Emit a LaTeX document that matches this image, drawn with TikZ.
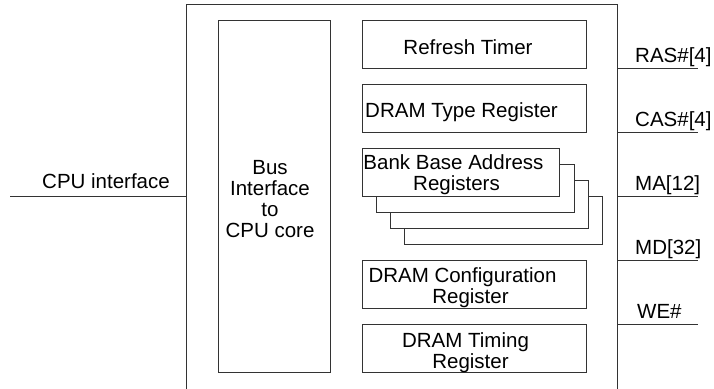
\documentclass[tikz,border=0pt]{standalone}
\usepackage{fontspec}
\setmainfont{Liberation Sans}
\newcommand{\lowerby}[2]{\raisebox{-#1}[\height][\depth]{#2}}
\begin{document}
\begin{tikzpicture}[x=1pt,y=-1pt,
  ln/.style={line width=0.9pt,draw=black!80},
  blk/.style={ln,fill=white,rectangle,inner sep=0pt,align=center,
    font=\fontsize{20.5}{21}\selectfont},
  sig/.style={anchor=base west,inner sep=0pt,font=\fontsize{20.5}{21}\selectfont}]
\clip (0,0) rectangle (714,388);
\fill[white] (0,0) rectangle (714,388);
% outer chip
\node[blk,minimum width=431pt,minimum height=392pt] (chip) at (401.5,200) {};
% bus interface
\node[blk,minimum width=112pt,minimum height=352pt] (bus) at (274,196)
  {\hspace*{-8pt}\lowerby{6pt}{\begin{tabular}{@{}c@{}}Bus\\Interface\\to\\CPU core\end{tabular}}};
% registers
\node[blk,minimum width=224pt,minimum height=48pt] (refresh) at (474,44)
  {\hspace*{-12pt}\lowerby{3pt}{Refresh Timer}};
\node[blk,minimum width=224pt,minimum height=48pt] (type) at (474,108)
  {\hspace*{-25pt}\lowerby{4pt}{DRAM Type Register}};
\node[blk,minimum width=198pt,minimum height=48pt] (bank4) at (503,220) {};
\node[blk,minimum width=198pt,minimum height=48pt] (bank3) at (489,204) {};
\node[blk,minimum width=198pt,minimum height=48pt] (bank2) at (475,188) {};
\node[blk,minimum width=197pt,minimum height=48pt] (bank1) at (460.5,172)
  {\hspace*{-14pt}\lowerby{4pt}{\begin{tabular}{@{}c@{}}Bank Base Address\\\hspace*{6pt}Registers\end{tabular}}};
\node[blk,minimum width=224pt,minimum height=48pt] (config) at (474,284)
  {\hspace*{-23pt}\lowerby{5pt}{\begin{tabular}{@{}c@{}}DRAM Configuration\\\hspace*{16pt}Register\end{tabular}}};
\node[blk,minimum width=224pt,minimum height=48pt] (timing) at (474,348)
  {\hspace*{-17pt}\lowerby{6pt}{\begin{tabular}{@{}c@{}}DRAM Timing\\\hspace*{10pt}Register\end{tabular}}};
% CPU interface line
\coordinate (cpu) at (10,196);
\draw[ln] (cpu) -- (cpu -| chip.west);
\node[sig] (cpulbl) at (42,188) {CPU interface};
% right signals
\coordinate (ras) at (698,68);
\coordinate (cas) at (698,132);
\coordinate (ma) at (698,196);
\coordinate (md) at (698,260);
\coordinate (we) at (698,324);
\foreach \s in {ras,cas,ma,md,we}{
  \draw[ln] (chip.east |- \s) -- (\s);
}
\node[sig] (raslbl) at (635,62) {RAS\#[4]};
\node[sig] (caslbl) at (635,126) {CAS\#[4]};
\node[sig] (malbl) at (635,190) {MA[12]};
\node[sig] (mdlbl) at (635,254) {MD[32]};
\node[sig] (welbl) at (637,318) {WE\#};
\end{tikzpicture}
\end{document}
